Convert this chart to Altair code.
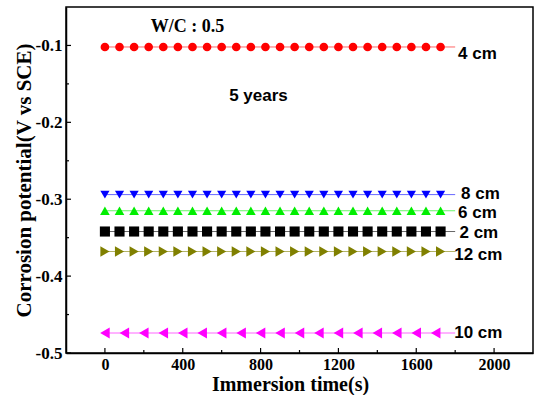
import altair as alt
import pandas as pd

# ---- data ----
series = ["4 cm", "8 cm", "6 cm", "2 cm", "12 cm", "10 cm"]
levels = [-0.102, -0.294, -0.315, -0.342, -0.368, -0.474]
colors = ["#FF0000", "#0000FF", "#00EE00", "#000000", "#808000", "#FF00FF"]
shapes = ["circle", "triangle-down", "triangle-up", "square", "triangle-right", "triangle-left"]
msizes = [75, 120, 120, 55, 120, 120]
x_times_dense = [0, 75, 150, 225, 300, 375, 450, 525, 600, 675, 750, 825, 900, 975,
                 1050, 1125, 1200, 1275, 1350, 1425, 1500, 1575, 1650, 1725]
x_times_sparse = [0, 100, 200, 300, 400, 500, 600, 700, 800, 900, 1000, 1100,
                  1200, 1300, 1400, 1500, 1600, 1700]
line_span = [0, 1800]
label_x = [1815, 1830, 1815, 1822, 1795, 1795]
label_y = [-0.111, -0.293, -0.318, -0.344, -0.372, -0.474]
x_major = [0, 400, 800, 1200, 1600, 2000]
x_minor = [200, 600, 1000, 1400, 1800]
y_major = [-0.5, -0.4, -0.3, -0.2, -0.1]
y_minor = [-0.45, -0.35, -0.25, -0.15]

rows = []
for s, v in zip(series, levels):
    xs = x_times_sparse if s == "10 cm" else x_times_dense
    for t in xs:
        rows.append({"series": s, "t": t, "E": v})
pts = pd.DataFrame(rows)
lines = pd.DataFrame([{"series": s, "t": t, "E": v} for s, v in zip(series, levels) for t in line_span])
labels = pd.DataFrame({"label": series, "t": label_x, "E": label_y})

W, H = 467, 346
xs = alt.Scale(domain=[-200, 2200], nice=False, zero=False)
ys = alt.Scale(domain=[-0.5, -0.05], nice=False, zero=False)
col = alt.Scale(domain=series, range=colors)
shp = alt.Scale(domain=series, range=shapes)
szs = alt.Scale(domain=series, range=msizes)

serif = "Liberation Serif"
sans = "Liberation Sans"

xaxis = alt.Axis(title="Immersion time(s)", values=x_major, ticks=False, grid=False, format="d",
                 labelFont=serif, labelFontWeight="bold", labelFontSize=16, labelColor="black",
                 labelPadding=3, domainColor="black", domainWidth=1.5,
                 titleFont=serif, titleFontWeight="bold", titleFontSize=20, titleColor="black",
                 titlePadding=2, titleX=224)
yaxis = alt.Axis(title="Corrosion potential(V vs SCE)", values=y_major, ticks=False, grid=False,
                 labelExpr="replace(format(datum.value, '.1f'), '\u2212', '-')",
                 labelFont=serif, labelFontWeight="bold", labelFontSize=17, labelColor="black",
                 labelPadding=4, domainColor="black", domainWidth=1.5,
                 titleFont=serif, titleFontWeight="bold", titleFontSize=21, titleColor="black",
                 titlePadding=1)

line_layer = alt.Chart(lines).mark_line(strokeWidth=1, opacity=0.6).encode(
    x=alt.X("t:Q", scale=xs, axis=xaxis),
    y=alt.Y("E:Q", scale=ys, axis=yaxis),
    color=alt.Color("series:N", scale=col, legend=None),
    detail="series:N",
)
pt_layer = alt.Chart(pts).mark_point(filled=True, opacity=1).encode(
    x=alt.X("t:Q", scale=xs),
    y=alt.Y("E:Q", scale=ys),
    color=alt.Color("series:N", scale=col, legend=None),
    shape=alt.Shape("series:N", scale=shp, legend=None),
    size=alt.Size("series:N", scale=szs, legend=None),
)
lab_layer = alt.Chart(labels).mark_text(align="left", baseline="middle", font=sans,
                                        fontWeight="bold", fontSize=17, color="black").encode(
    x=alt.X("t:Q", scale=xs), y=alt.Y("E:Q", scale=ys), text="label:N")

ann = pd.DataFrame({"t": [425], "E": [-0.0757], "txt": ["W/C : 0.5"]})
ann_layer = alt.Chart(ann).mark_text(font=serif, fontWeight="bold", fontSize=18, color="black",
                                     baseline="middle").encode(
    x=alt.X("t:Q", scale=xs), y=alt.Y("E:Q", scale=ys), text="txt:N")
ann2 = pd.DataFrame({"t": [789], "E": [-0.1664], "txt": ["5 years"]})
ann2_layer = alt.Chart(ann2).mark_text(font=sans, fontWeight="bold", fontSize=17, color="black",
                                       baseline="middle").encode(
    x=alt.X("t:Q", scale=xs), y=alt.Y("E:Q", scale=ys), text="txt:N")

xt_major = alt.Chart(pd.DataFrame({"t": x_major})).mark_rule(color="black", strokeWidth=1.2).encode(
    x=alt.X("t:Q", scale=xs), y=alt.value(H), y2=alt.value(H - 5))
xt_minor = alt.Chart(pd.DataFrame({"t": x_minor})).mark_rule(color="black", strokeWidth=1.2).encode(
    x=alt.X("t:Q", scale=xs), y=alt.value(H), y2=alt.value(H - 3))
yt_major = alt.Chart(pd.DataFrame({"E": y_major})).mark_rule(color="black", strokeWidth=1.2).encode(
    y=alt.Y("E:Q", scale=ys), x=alt.value(0), x2=alt.value(5))
yt_minor = alt.Chart(pd.DataFrame({"E": y_minor})).mark_rule(color="black", strokeWidth=1.2).encode(
    y=alt.Y("E:Q", scale=ys), x=alt.value(0), x2=alt.value(3))

chart = alt.layer(line_layer, pt_layer, lab_layer, ann_layer, ann2_layer,
                  xt_major, xt_minor, yt_major, yt_minor).properties(
    width=W, height=H,
    autosize=alt.AutoSizeParams(type="none"),
    padding={"left": 66, "top": 7, "right": 1, "bottom": 42},
    background="white",
).configure_view(stroke="black", strokeWidth=1.5)

chart.save("out.html", embed_options={"renderer": "svg", "actions": False})
